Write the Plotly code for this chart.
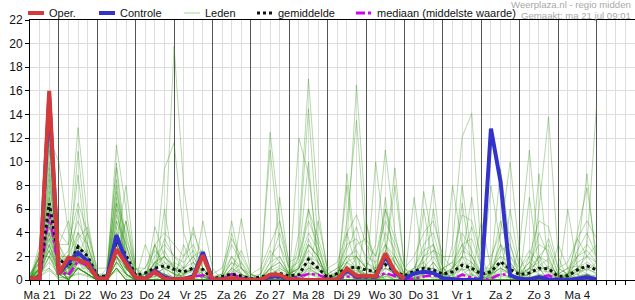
import plotly.graph_objects as go

# ---------------- data ----------------
start_hour = 6          # Ma 21 06:00
step_hours = 6
n_steps = 60
hours = [start_hour + step_hours * i for i in range(n_steps)]

day_labels = ["Ma 21", "Di 22", "Wo 23", "Do 24", "Vr 25", "Za 26", "Zo 27",
              "Ma 28", "Di 29", "Wo 30", "Do 31", "Vr 1", "Za 2", "Zo 3", "Ma 4"]

oper = [0.1, 0.15, 16, 0.5, 1.9, 1.7, 1.4, 0.15, 0.1, 2.6,
        1.4, 0.2, 0.1, 0.7, 0.1, 0.05, 0.1, 0.2, 2.1, 0.05,
        0.05, 0.15, 0.05, 0, 0, 0.45, 0.45, 0.05, 0, 0,
        0, 0, 0.05, 0.95, 0.35, 0.35, 0.3, 2.25, 0.7, 0.1]

controle = [0.1, 0.1, 15.5, 0.5, 1.5, 2.3, 1.6, 0.2, 0.1, 3.8,
            1.6, 0.2, 0.1, 0.8, 0.2, 0.05, 0.1, 0.3, 2.35, 0.05,
            0.05, 0.1, 0.05, 0, 0, 0.3, 0.3, 0.05, 0, 0,
            0, 0, 0.05, 0.8, 0.3, 0.3, 0.3, 2.0, 0.6, 0.1,
            0.55, 0.7, 0.6, 0.15, 0.05, 0, 0, 0.05, 12.8, 8.3,
            0.4, 0.1, 0.05, 0.25, 0.05, 0, 0, 0.1, 0.25, 0.05]

gemiddelde = [0.1, 0.2, 6.5, 1.8, 1.1, 2.8, 2.0, 0.35, 0.3, 3.3,
              2.1, 0.4, 0.6, 1.0, 1.2, 0.9, 0.7, 1.0, 0.9, 0.1,
              0.3, 0.5, 0.35, 0.1, 0.25, 0.45, 0.55, 0.35, 0.45, 1.75,
              1.0, 0.2, 0.55, 1.0, 1.1, 0.85, 0.7, 1.3, 0.7, 0.35,
              0.75, 1.0, 0.85, 0.5, 0.7, 1.25, 1.0, 0.5, 0.7, 1.55,
              0.9, 0.45, 0.6, 1.0, 0.95, 0.3, 0.35, 0.85, 1.2, 0.85]

mediaan = [0.05, 0.1, 5.6, 0.8, 0.4, 1.6, 1.2, 0.1, 0.05, 2.5,
           1.3, 0.1, 0.1, 0.5, 0.3, 0.1, 0.15, 0.3, 0.4, 0.05,
           0.05, 0.5, 0.2, 0.05, 0.05, 0.2, 0.2, 0.1, 0.3, 0.5,
           0.45, 0.1, 0.1, 0.3, 0.2, 0.2, 0.2, 0.6, 0.3, 0.05,
           0.1, 0.3, 0.4, 0.1, 0.05, 0.45, 0.2, 0.05, 0.1, 0.5,
           0.4, 0.1, 0.1, 0.2, 0.4, 0.05, 0.05, 0.1, 0.15, 0.1]

leden = [
    [0.2,1.5,16,3,1,2,1,0,0,3, 1,0,0,0.5,1,0.5,0.5,1,0.5,0, 0,0.3,0,0,0,1,0.5,0,0,2, 1,0,0,0.5,1,0.5,0,0.3,0,0, 0,0.5,1,0,0,0,0,0,0.5,1, 0.5,0,0,0,0,0,0,0,0,0.5],
    [0,2.5,14.5,4,3,12.9,5,0.5,0,1.5, 0.5,0,0.5,1.5,2,1,0,0.5,0.3,0, 0,0,0,0,0,0.5,0,0,0.5,1, 0.5,0,0.2,1.5,0.5,0,0,1,0.5,0, 0,0,0,0,1,2,0.5,0,0,0, 0,0,0.5,2,1,0,0,0,0.5,0],
    [0.3,1,12,10,4,2,1.5,0,0.5,2, 1,0,0,0,0.5,0,1,2,0.5,0, 0,0.5,0.3,0,0,0,0,0,1,3, 2,0,0,0,0,0,0.5,1.5,0.5,0, 0,1,2,0.5,0,0,0,0,0,1.5, 0.5,0,0,0,0,0,0,1,2,1],
    [0,0.5,11,2,1,10.9,3,0,0.5,9.9, 3,0.5,0,0.5,0.5,0,0,0,0,0, 0,1,0.5,0,0,0,0,0,0,0.5, 0.5,0,0,0.5,2,1,0.5,0,0,0, 0,0,0,0,0,0.5,1,0,0,0, 0,0,1,0.5,0,0,0,0,0,0],
    [0.1,2,9,1.5,2,8.9,2,0,0.3,11.4, 6,1,0,0,0,0,0,0.5,1,0, 0,0,0,0,0,0,0,0.5,1,1.5, 0.5,0,0.5,2,1,0,0,0.5,0,0, 0.5,0,0,0,0,0,0,0,1,2, 0.5,0,0,0,0,0,0.5,0.5,0,0],
    [0,1,8,3,1.5,1,0.5,0,1,9.5, 2,0,0.5,1,2,19.8,8,2,0.5,0, 0,0.5,0,0,0,0.5,0,0,1,6, 2,0,0,0,0,0.5,1,0,0,0, 0,0,0,0,0,0,0,0,0,0, 0,0,0,0,0,0,0.5,1,0.5,0],
    [0.5,1.5,7,2,1,3,2,0,0.5,8, 1,0,0,0.5,9.4,11.6,4,1.5,0,0, 0,0,0,0,0,0.3,1,0.5,0,0, 0,0,0,1,0.5,0,0,0,0,0, 0,0,0,0,0.5,1,0,0,0,0, 0,0,0,0,0,0,0,0,0,0],
    [0,0.5,6.5,1,0.5,2,1,0,0.5,3, 8,1,0,4.5,2,0.5,0,0,0,0, 0,0,0,0,0,12.5,5,0.5,0,0.5, 0.5,0,0,0,0,0.5,0,0.5,0,0, 0,0,0,0,0,0,0,0,0,0, 0,0,0,0,0,1,0.5,0,0,0],
    [0,0,5.5,0.5,0,1,0.5,0,0,7, 2,0,0,0,0,0,0,0,0,0, 0,0,0,0,0,11,3,0,4,17, 6,0.5,0,0,0,0,0,0,0,0, 0,0,0,0,0,0,0,0,0.5,1.5, 0.5,0,0,0,0,0,0,0,0,0],
    [0.2,1,5,1.5,0.5,4,2,0.5,0,2, 1,0,0,0,0.5,0,0,0,0,0, 0,0,0,0,0,0,0,0,3,14.5, 3,0,0,4,1,0,0,6,2,0, 0,0,0,0,0,0,0,0,0,0, 0,0,2,1,0,0,0,0,0,0],
    [0,0.5,4.5,1,0,1.5,1,0,0,6, 1.5,0,0,0,0,0,0.5,1,0,0, 0,0,0,0,0,0,0,0,0,0, 0,0,0.5,3,16.5,5,0,0,0,0, 0,0,0,0,3,12.1,14.1,2,0,0, 0,0,0,0,0,0,0,0,0,0],
    [0,1,4,2,1,3,1,0,0,1, 0,0,0,1,0.5,0,0,0,0,0, 0,0,0,0,0,0,0,0,0,1, 1,0,0,5,13.5,3,0.5,2,8,1, 0,0,0,0,0,0,0,0,0,0, 0,0,0,0,0,0,0,0,0.5,0],
    [0.3,0.5,3.5,0.5,0,1,0.5,0,0,5, 2,0,0,0,0,0,0,0,0,0, 0,0,0,0,0,0,0,0,0,0, 0,0,0,0,0.5,1,3,11,4,0, 0,7.5,3,0,0,0,0,0,0,0, 0,0,0,0,0,0,0,0,0,0],
    [0,0,3,0.5,1,2,4,0,0,2, 0.5,0,0,0,0,0,0,0,0,0, 0,0,0,0,0,0,0,0,0,0, 0,0,0,0,0,0,10,3,0.5,0, 0,2,8,1,0,0,0,0,0,4, 10,2,0,0,0,0,0,0,0,0],
    [0,0.5,2.5,0,0,1,0.5,0,0,4, 0.5,0,0,0,0,0,1,4.5,1,0, 0.5,5,1,0,0,0,0,0,0,0, 0,0,0,0,0,0,0,0,0,0, 0,0,0,0,8,3,0,0,1,9.4, 3,0,0,0,0,0,0,0,0,0],
    [0.5,2,2,3,5,2,1,0,0,1, 0,0,0,3,1,0,0,0,5,1, 0,0,0,0,0,0,0,0,0,0, 0,0,0,0,0,0,0,0,0,0, 0,0,0,0,0,0,0,0,0,0, 0,3,11,2,0,0,0,0,0,0],
    [0,1.5,13,2,0.5,1,1,0,0,3.5, 1,0,0,0,0,0,0,0,0,0, 0,0,0,0,0,0,0,0,0,0, 0,0,0,0,0,0,0,0,0,0, 0,0,0,0,0,0,0,0,0,0, 0,0,0,6,13.8,2,0,0,0,0],
    [0.2,3,10,1,0.5,6,2,0,0,1, 0,0,0,0,0,0,0,0,0,0, 0,0,0,0,0,0,0,0,0,0, 0,0,0,0,0,0,0,0,0,0, 7,1,0,0,0,0,0,0,0,0, 0,0,0,0,0,0,0,0,3,14.8],
    [0,1,8.5,1.5,0,2,1,0,0,1.5, 5,0.5,0,0,0,0,0,0,0,0, 0,0,0,0,0,0,0,0,0,0, 0,0,0,0,0,0,0,0,0,0, 0,0,0,0,0,0,0,0,0,0, 0,0,0,0,0,0,0,4,7.8,2],
    [0,0.5,6,1,0,1,0.5,0,0,8.5, 2,0,0,0,0,0,0,0,0,0, 0,4,1,0,0,0,0,0,0,0, 0,0,0,0,0,0,0,0,0,0, 0,0,0,0,0,8,2,0,8,3, 0,0,0,0,0,0,0,0,0,0],
    [0.1,2,7.5,0.5,0.5,2.5,1,0,0,2, 0.5,0,0,0,0,0,0,0,0,0, 0,0,0,0,0,0,0,0,12,9, 2,0,0,0,0,0,0,0,0,0, 0,0,0,0,0,0,0,0,0,0, 0,0,0,0,0,0,6,1,0,0],
    [0,1,5,1,0,1.5,0.5,0,0,3, 1,0,0,0,6,1,0,0,0,0, 0,0,0,0,0,0,0,0,0,0, 0,0,0,9,2,0,0,7,1,0, 0,0,0,0,0,0,0,0,0,0, 6,1,0,0,0,0,0,0,0,0],
    [0,1,9.5,2,1,1,0.5,0,0,6.5, 1,0,0,0,0,0,0,0,0,0, 0,0,0,0,0,0,7,1,0,0, 0,0,0,0,0,0,0,0,0,0, 0,6,1,0,0,0,0,0,0,0, 0,0,0,0,0,0,0,0,0,0],
    [0.3,0.5,4,0.5,0,1,0.5,0,0,1, 0,0,3,1,0,0,0,0,0,0, 0,0,0,0,0,0,0,0,2,10, 1,0,0,0,0,5,1,0,0,0, 0,0,0,0,0,6.5,1,0,0,0, 0,0,0,0,0,0,0,0,0,0],
    [0,2,11.5,1,0.5,2,1,0,0,1.5, 0.5,0,0,0,0,0,0,0,0,0, 0,0,0,0,0,0,0,0,0,0, 0,0,0,0,0,0,0,2,9.5,1, 0,0,0,0,0,0,0,0,0,0, 0,0,7,1,0,0,0,0,0,0],
    [0,0.5,3,0.5,0,1,0.5,0,0,4.5, 1,0,0,0,0,0,0,0,0,0, 0,0,0,0,0,0,0,0,0,0, 5,1,0,0,0,0,0,0,0,0, 0,0,0,0,0,2,7,1,0,0, 0,0,0,9,1,0,0,0,0,0],
    [0,1,6,1,0,1,0.5,0,0,2, 0.5,0,0,3,0.5,0,0,0,0,0, 0,0,5.2,0.5,0,0,0,0,0,0, 0,0,0,0,0,0,0,0,0,0, 0,0,0,0,0,0,0,5,1,0, 0,0,0,0,0,0,0,0,0,0],
    [0,0.5,2,0.5,0.5,1,0.5,0,0,2, 0.5,0,0,0,0,0,0,0,0,0, 0,0,0,0,0,0,0,0,0,0, 0,0,0,8,1,0,0,0,0,0, 0,0,0,0,0,0,0,0,0,0, 0,0,0,0,0,0,0,2,9,1],
    [0,1,5,1,0,2,1,0,0,1, 0,0,0,0,0,0,3,1,0,0, 0,0,0,0,0,0,0,0,0,0, 0,0,0,0,0,0,0,0,0,0, 0,0,0,0,0,0,0,0,0,0, 0,0,0,0,0,0,0,0,0,0],
    [0,2.5,12.5,1.5,0.5,3,1,0,0,1, 0,0,0,0,0,0,0,0,0,0, 0,0,0,0,0,0,0,0,0,0, 0,0,0,0,0,0,0,0,0,0, 0,0,6,1,0,0,0,0,0,0, 0,0,0,0,0,3,1,0,0,0],
    [0,0.5,1.5,0.5,1,1.5,1,0.2,0.5,2.5, 1.5,0.2,0.5,1,1.5,1,0.5,1,0.5,0.2, 0.2,1,0.5,0.2,0,0.5,1,0.5,0.5,1.5, 1,0.3,0.5,1,1,0.5,0.5,1.5,1,0.3, 0.5,1,1,0.5,0.5,1.5,1,0.5,0.5,1, 0.5,0.2,0.5,1,1,0.3,0.2,0.5,1,0.5],
    [0.2,1,3,1,0.5,2.5,1.5,0,0.2,3.5, 2,0.5,0.2,0.5,1,1.5,1,0.5,0.2,0, 0,0.5,1,0.5,0.2,1,1.5,0.5,1,2.5, 1.5,0.5,0.2,1.5,2,1,0.5,1,0.5,0.2, 1,1.5,0.5,0.2,1,2,1.5,0.5,0.5,1.5, 1,0.5,1,1.5,0.5,0.2,0.5,1,1.5,1],
    [0,0.2,2,0.2,0.3,1,0.5,0,0,1.5, 0.5,0.2,0.3,1.5,1,0.5,0.2,0.5,0.3,0, 0.2,1.5,0.5,0,0,0.5,0.5,0.2,0.2,1, 0.5,0,0.3,0.5,0.5,0.2,0.2,0.5,0.3,0, 0.2,0.5,1.5,0.5,0.2,0.5,0.5,0.2,0.3,0.5, 0.2,0,0.2,0.5,0.3,0.2,0.2,0.3,0.5,0.2],
    [0.5,1.5,4.5,2,2,4,3,0.5,0.5,5.5, 3,0.5,0.5,2,3,2,1.5,2.5,1,0.2, 0.5,2,1,0.3,0.5,2,3,1,1.5,4, 2.5,0.5,1,3,3.5,2,1.5,3,2,0.5, 1,2.5,3,1,1.5,3,3.5,1,1,3, 2,0.5,1.5,3,2.5,0.5,1,2,3,2],
    [0,0.3,1,0,0.2,0.5,0.3,0,0,0.8, 0.3,0,0,0.3,0.5,0.2,0,0.2,0,0, 0,0.3,0.2,0,0,0.2,0.3,0,0,0.5, 0.2,0,0,0.3,0.2,0,0,0.3,0.2,0, 0,0.3,0.2,0,0,0.3,0.2,0,0,0.3, 0.2,0,0,0.3,0.2,0,0,0.2,0.3,0.1],
    [0.2,0.8,2.5,1,1.5,3,2,0.3,0.3,4, 2.5,0.3,0.3,1.5,2,1,1,1.5,0.5,0, 0.3,1.5,1,0.2,0.2,1.5,2,0.5,1,3, 2,0.3,0.5,2,2.5,1,1,2,1.5,0.3, 0.5,2,2.5,0.5,1,2.5,2,0.5,1,2, 1.5,0.3,1,2,1.5,0.3,0.5,1.5,2,1.5],
    [0,0.8,3.5,1.5,2.5,5,3,0.2,0.5,6.5, 4,0.5,1,2.5,1.5,0.5,2,3,1,0, 0,1,2.5,0.5,0,1.5,4,1,0.5,3, 2,0,0.5,2.5,4.5,1.5,1,4,2.5,0.5, 1,3,4,1,0.5,2,4.5,1,0.5,2.5, 3,0.5,1,4,2,0,0.5,2.5,4,2],
    [0.3,1.2,5,2.5,1,3.5,4.5,0.5,0.2,2.5, 5,1,0.5,1,3.5,2,1,2,2.5,0.3, 0.5,3,1.5,0,0.5,2.5,1.5,0.5,2,5, 3,0.5,1,1.5,3,3.5,2,5,3,1, 0.5,1.5,2.5,2,1,4,2.5,0.5,1.5,5, 2,1,2.5,1.5,3.5,1,0.5,3.5,2,3],
    [0,0.4,2,0.8,0.5,1.5,0.8,0,0.2,1.5, 1,0.2,0.2,0.8,0.5,0.3,0.4,0.8,0.4,0, 0.1,0.8,0.4,0.1,0.1,0.6,0.8,0.3,0.4,1.2, 0.8,0.2,0.3,0.8,0.8,0.4,0.3,1,0.6,0.1, 0.4,0.8,1,0.3,0.4,0.9,0.8,0.3,0.4,1, 0.6,0.2,0.5,0.8,0.7,0.2,0.3,0.7,0.9,0.6],
    [0.1,0.6,1,0.3,0.8,2,1,0,0.5,3, 1.5,0,0.2,0.5,1,0.5,0.3,1.5,0.8,0, 0,0.5,0.3,0,0,1,1.5,0.2,0.3,0.8, 0.5,0,0.2,1.5,1,0.3,0.8,2.5,1.5,0, 0.2,0.5,1.5,0.3,0,1,1.5,0.2,0.2,0.8, 0.5,0,0.3,1.2,1.8,0.2,0.2,0.8,1.2,0.8],
    [0.4,2,7,3,3,6.5,4,1,1,7.5, 3.5,1,1,3,4,3,2,4,2,0.5, 1,3.5,2,0.5,1,3,5,1.5,2,6, 3.5,1,1.5,4,5.5,3,2,6,3.5,1, 2,4,5,2,2,5.5,5,2,2,4, 4,1,2,5,4.5,1,1.5,3.5,5,3.5],
    [0,0.3,0.8,0.2,0.2,0.6,0.4,0,0.1,1, 0.5,0,0.1,0.3,0.3,0.2,0.1,0.4,0.2,0, 0,0.4,0.2,0,0,0.3,0.4,0.1,0.2,0.6, 0.3,0,0.1,0.4,0.4,0.2,0.1,0.5,0.3,0, 0.1,0.4,0.5,0.2,0.1,0.4,0.4,0.1,0.2,0.5, 0.3,0.1,0.2,0.4,0.4,0.1,0.1,0.3,0.5,0.3],
    [0.2,1,2.5,0.6,1,2.5,1.2,0.2,0.3,2, 1.2,0.3,0.5,1.2,2,1.2,0.6,0.8,1.5,0.2, 0.3,0.6,1.5,0.4,0.2,0.8,1.2,0.6,1.2,2, 1.5,0.2,0.8,1.2,0.6,1.5,0.8,1.2,2,0.4, 0.8,1.2,0.6,1,1.5,0.8,1.2,0.5,0.8,1.5, 1.2,0.6,1.5,0.8,1.2,0.5,1,1.2,0.8,1.5],
    [0,0.5,4,1,0.5,2,2.5,0,0,5, 3,0.3,0,1.5,2.5,1,0.5,1,0.3,0, 0,2,0.5,0,0,1,2,0.5,1,3.5, 1.5,0,0.5,2,2,1,0.5,3,1.5,0, 0.5,2,3,0.5,1,3,2,0.5,0.5,3, 1.5,0.3,0.5,2,3,0.5,0.5,2,2.5,1.5],
]

# legend entries (label, colour, dash, width)
legend_entries = [
    ("Oper.", "#d43a3a", "solid", 4),
    ("Controle", "#3333cc", "solid", 4),
    ("Leden", "#b5dba8", "solid", 1.2),
    ("gemiddelde", "#111111", "dot", 3),
    ("mediaan (middelste waarde)", "#d800f0", "dashdot", 3),
]

# ---------------- layout constants (pixels) ----------------
W, H = 635, 300
ML, MR, MT, MB = 30, 0, 20, 20
PW, PH = W - ML - MR, H - MT - MB
legend_key_x = [28, 99, 184, 257, 356]   # left end of each legend key
legend_key_len = 16
legend_text_gap = 4
legend_y = 13


def px_x(px):
    return (px - ML) / PW


def px_y(py):
    return (H - MB - py) / PH


FONT = "Liberation Sans, Arial, sans-serif"
n_days = len(day_labels)
noon_ticks = [12 + 24 * d for d in range(n_days)]
midnight_ticks = [24 * d for d in range(n_days + 2)]
x_end = 24 * (n_days + 1)

fig = go.Figure()

for k, member in enumerate(leden):
    fig.add_trace(go.Scatter(
        x=hours[:len(member)], y=member, mode="lines",
        line=dict(color="rgba(50,150,20,0.36)", width=1),
        name="Leden", showlegend=False, hoverinfo="skip"))

fig.add_trace(go.Scatter(
    x=hours, y=mediaan, mode="lines", name="mediaan (middelste waarde)",
    line=dict(color="#d800f0", width=2.5, dash="dashdot"), showlegend=False))
fig.add_trace(go.Scatter(
    x=hours, y=gemiddelde, mode="lines", name="gemiddelde",
    line=dict(color="#111111", width=3, dash="dot"), showlegend=False))
fig.add_trace(go.Scatter(
    x=hours, y=controle, mode="lines", name="Controle",
    line=dict(color="#3333cc", width=4), showlegend=False))
fig.add_trace(go.Scatter(
    x=hours[:len(oper)], y=oper, mode="lines", name="Oper.",
    line=dict(color="#d43a3a", width=4), showlegend=False))

# dummy trace carrying the day-boundary axis
fig.add_trace(go.Scatter(x=[hours[0]], y=[None], xaxis="x2", mode="lines",
                         showlegend=False, hoverinfo="skip"))

shapes = []
annotations = []
for (label, color, dash, width), kx in zip(legend_entries, legend_key_x):
    shapes.append(dict(type="line", xref="paper", yref="paper",
                       x0=px_x(kx), x1=px_x(kx + legend_key_len),
                       y0=px_y(legend_y), y1=px_y(legend_y),
                       line=dict(color=color, width=width, dash=dash)))
    annotations.append(dict(text=label, xref="paper", yref="paper",
                            x=px_x(kx + legend_key_len + legend_text_gap),
                            y=px_y(legend_y), xanchor="left", yanchor="middle",
                            showarrow=False, borderpad=0,
                            font=dict(size=11, color="#111", family=FONT)))

annotations += [
    dict(text="Weerplaza.nl - regio midden", xref="paper", yref="paper",
         x=px_x(632), y=px_y(5), xanchor="right", yanchor="middle", borderpad=0,
         showarrow=False, font=dict(size=9.6, color="#a8a8a8", family=FONT)),
    dict(text="Gemaakt: ma 21 jul 09:01", xref="paper", yref="paper",
         x=px_x(632), y=px_y(15), xanchor="right", yanchor="middle", borderpad=0,
         showarrow=False, font=dict(size=9.6, color="#a8a8a8", family=FONT)),
]

fig.update_layout(
    width=W, height=H,
    margin=dict(l=ML, r=MR, t=MT, b=MB, autoexpand=False),
    paper_bgcolor="white", plot_bgcolor="white",
    font=dict(family=FONT, size=12, color="#222"),
    showlegend=False,
    xaxis=dict(range=[hours[0], x_end], tickmode="array", tickvals=noon_ticks,
               ticktext=day_labels, ticks="outside", ticklen=4, tickcolor="#000",
               showgrid=True, gridcolor="#dddddd", gridwidth=1,
               minor=dict(tickmode="linear", tick0=0, dtick=step_hours, ticks="outside",
                          ticklen=4, tickcolor="#000", showgrid=True,
                          gridcolor="#dddddd", gridwidth=1),
               showline=True, linecolor="#000", linewidth=1, mirror=True,
               zeroline=False, tickfont=dict(size=11.5, color="#111")),
    xaxis2=dict(range=[hours[0], x_end], overlaying="x", side="bottom",
                tickmode="array", tickvals=midnight_ticks, showticklabels=False,
                ticks="", showgrid=True, gridcolor="#555555", gridwidth=1,
                showline=False, zeroline=False),
    yaxis=dict(range=[0, 22], tick0=0, dtick=2, ticks="outside", ticklen=4,
               tickcolor="#000", showgrid=True, gridcolor="#dddddd", gridwidth=1,
               showline=True, linecolor="#000", linewidth=1, zeroline=False,
               tickfont=dict(size=12, color="#111")),
    shapes=shapes,
    annotations=annotations,
)

fig.write_html("out.html")
